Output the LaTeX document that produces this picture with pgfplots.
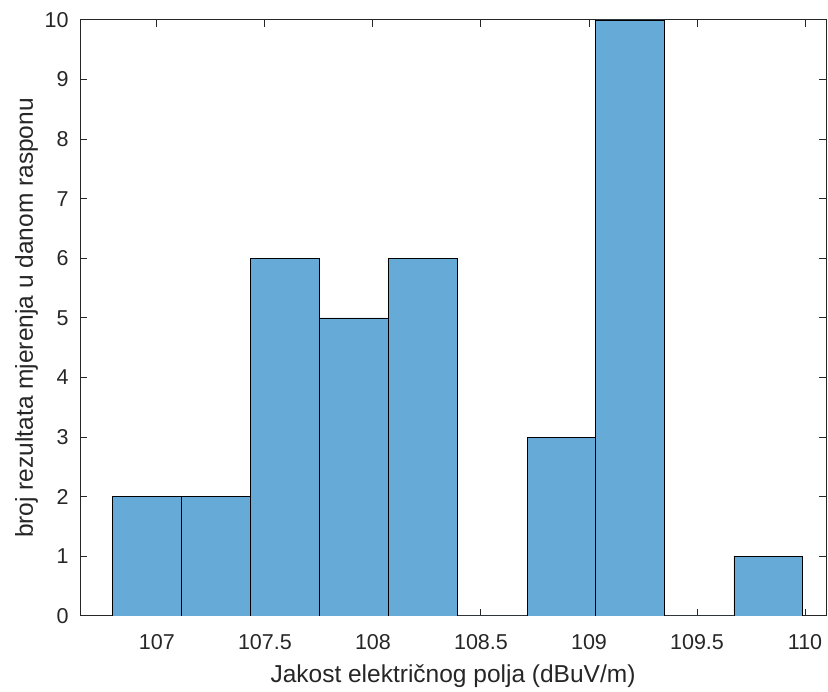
\documentclass[border=0pt]{standalone}
\usepackage{fontspec}
\setmainfont{Liberation Sans}
\usepackage{pgfplots}
\pgfplotsset{compat=1.18}
\definecolor{barblue}{RGB}{102,170,215}
\definecolor{axgray}{RGB}{38,38,38}
\begin{document}
\begin{tikzpicture}
\path[use as bounding box] (0,0) rectangle (828pt,692pt);
\begin{axis}[
  at={(80pt,76pt)}, anchor=south west,
  scale only axis, width=746pt, height=596pt,
  xmin=106.644, xmax=110.097, ymin=0, ymax=10,
  xtick={107,107.5,...,110},
  ytick={0,1,...,10},
  tick align=inside, tick pos=both,
  major tick length=7pt,
  axis line style={axgray, line width=1pt},
  every tick/.style={axgray, line width=1pt},
  ticklabel style={font=\fontsize{21.5}{25}\selectfont, text=axgray},
  xticklabel style={anchor=center, yshift=-26pt},
  yticklabel style={anchor=east, xshift=-8pt},
  /pgf/number format/assume math mode=true,
  /pgf/number format/.cd, use period, 1000 sep={},
  /pgfplots/.cd,
  xlabel={Jakost električnog polja (dBuV/m)},
  ylabel={broj rezultata mjerenja u danom rasponu},
  label style={font=\fontsize{24.5}{28}\selectfont, text=axgray},
  xlabel style={at={(axis description cs:0.5,0)}, anchor=base, yshift=-67pt},
  ylabel style={at={(axis description cs:0,0.5)}, anchor=base, yshift=47pt},
]
\addplot[ybar interval, fill=barblue, draw=black, line width=0.9pt] coordinates {
(106.796,2) (107.115,2) (107.435,6) (107.754,5) (108.074,6) (108.393,0)
(108.713,3) (109.032,10) (109.351,0) (109.671,1) (109.990,1)
};
\end{axis}
\end{tikzpicture}
\end{document}
